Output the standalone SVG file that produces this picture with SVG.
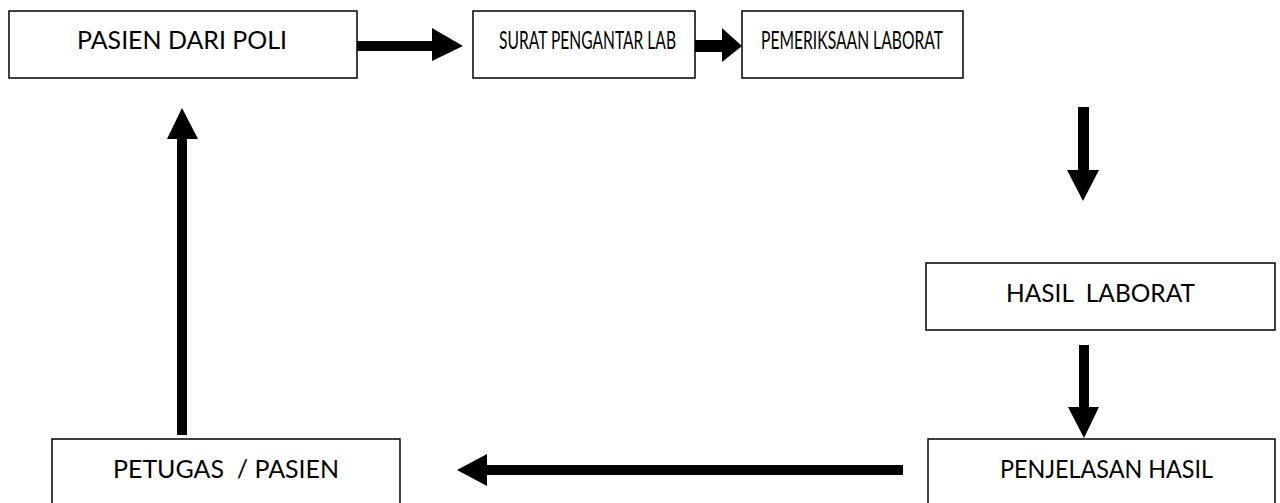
<svg xmlns="http://www.w3.org/2000/svg" width="1280" height="503" viewBox="0 0 1280 503">
  <style>
    .box { fill: #ffffff; stroke: #000000; stroke-width: 1.5; }
    .label { font-family: Lato, "Open Sans", "Liberation Sans", sans-serif; font-size: 25.5px; fill: #000000; }
    .arrow { fill: #000000; stroke: none; }
  </style>
  <rect width="1280" height="503" fill="#ffffff"/>

  <g id="connectors">
    <!-- PASIEN DARI POLI -> SURAT PENGANTAR LAB -->
    <polygon class="arrow" points="357,41 432,41 432,28 463,46 432,61 432,51 357,51"/>
    <!-- SURAT PENGANTAR LAB -> PEMERIKSAAN LABORAT -->
    <polygon class="arrow" points="695,40 722,40 722,28 742,46 722,62 722,52 695,52"/>
    <!-- PEMERIKSAAN LABORAT -> HASIL LABORAT -->
    <polygon class="arrow" points="1078,107 1089,107 1089,170 1099,170 1083,201 1067,170 1078,170"/>
    <!-- HASIL LABORAT -> PENJELASAN HASIL -->
    <polygon class="arrow" points="1079,345 1089,345 1089,407 1099,407 1084,438 1068,407 1079,407"/>
    <!-- PENJELASAN HASIL -> PETUGAS / PASIEN -->
    <polygon class="arrow" points="903,465 487,465 487,454 457,470 487,486 487,475 903,475"/>
    <!-- PETUGAS / PASIEN -> PASIEN DARI POLI -->
    <polygon class="arrow" points="177,435 177,139 167,139 182,108 198,139 187,139 187,435"/>
  </g>

  <g id="node-pasien-dari-poli">
    <rect class="box" x="9" y="11" width="348" height="67"/>
    <text class="label" x="77" y="49" textLength="210" lengthAdjust="spacingAndGlyphs">PASIEN DARI POLI</text>
  </g>

  <g id="node-surat-pengantar-lab">
    <rect class="box" x="473" y="11" width="222" height="67"/>
    <text class="label" x="499" y="49" textLength="177" lengthAdjust="spacingAndGlyphs">SURAT PENGANTAR LAB</text>
  </g>

  <g id="node-pemeriksaan-laborat">
    <rect class="box" x="742" y="11" width="221" height="67"/>
    <text class="label" x="761" y="49" textLength="182" lengthAdjust="spacingAndGlyphs">PEMERIKSAAN LABORAT</text>
  </g>

  <g id="node-hasil-laborat">
    <rect class="box" x="926" y="263" width="349" height="67"/>
    <text class="label" x="1006" y="301.5" textLength="189" lengthAdjust="spacingAndGlyphs" xml:space="preserve">HASIL  LABORAT</text>
  </g>

  <g id="node-penjelasan-hasil">
    <rect class="box" x="928" y="439" width="347" height="80"/>
    <text class="label" x="1000" y="477.5" textLength="213" lengthAdjust="spacingAndGlyphs">PENJELASAN HASIL</text>
  </g>

  <g id="node-petugas-pasien">
    <rect class="box" x="52" y="439" width="348" height="80"/>
    <text class="label" x="113" y="477.5" textLength="226" lengthAdjust="spacingAndGlyphs" xml:space="preserve">PETUGAS  / PASIEN</text>
  </g>
</svg>
